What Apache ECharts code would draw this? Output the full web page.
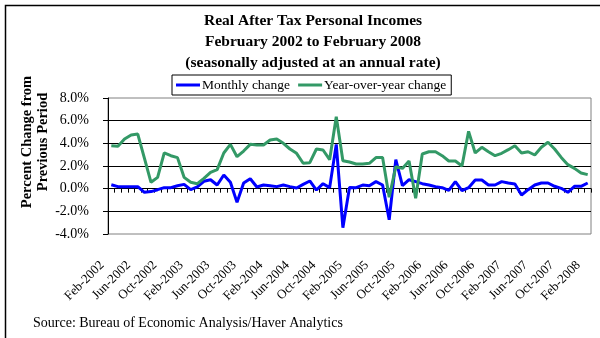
<!DOCTYPE html>
<html>
<head>
<meta charset="utf-8">
<script src="https://cdn.jsdelivr.net/npm/echarts@6/dist/echarts.min.js"></script>
<style>
  html, body { margin: 0; padding: 0; background: #fff; }
  #chart { width: 600px; height: 338px; }
</style>
</head>
<body>
<div id="chart"></div>
<script>
// Monthly categories, February 2002 through February 2008
const monthNames = ['Jan','Feb','Mar','Apr','May','Jun','Jul','Aug','Sep','Oct','Nov','Dec'];
const categories = [];
for (let k = 0; k < 73; k++) {
  const m = (1 + k) % 12;
  const y = 2002 + Math.floor((1 + k) / 12);
  categories.push(monthNames[m] + '-' + y);
}

// Percent change from the previous month (annual rate)
const monthlyChange = [
  0.35, 0.18, 0.18, 0.18, 0.18, -0.32, -0.26, -0.09, 0.09, 0.09,
  0.26, 0.38, -0.09, 0.15, 0.65, 0.79, 0.32, 1.21, 0.56, -1.21,
  0.50, 0.88, 0.15, 0.32, 0.26, 0.18, 0.32, 0.18, 0.06, 0.38,
  0.68, -0.12, 0.44, 0.09, 3.91, -3.44, 0.10, 0.09, 0.32, 0.26,
  0.62, 0.32, -2.74, 2.56, 0.26, 0.79, 0.62, 0.44, 0.32, 0.18,
  0.09, -0.15, 0.62, -0.18, 0.09, 0.76, 0.76, 0.32, 0.32, 0.62,
  0.50, 0.41, -0.56, -0.09, 0.32, 0.50, 0.50, 0.21, 0.03, -0.32,
  0.21, 0.21, 0.50
];

// Percent change from the same month a year earlier
const yearOverYearChange = [
  3.79, 3.74, 4.38, 4.74, 4.82, 2.69, 0.56, 1.00, 3.15, 2.91,
  2.74, 1.00, 0.56, 0.44, 0.91, 1.44, 1.68, 3.15, 3.91, 2.82,
  3.32, 3.91, 3.85, 3.85, 4.29, 4.38, 4.00, 3.50, 3.12, 2.24,
  2.29, 3.50, 3.41, 2.56, 6.35, 2.47, 2.35, 2.18, 2.18, 2.24,
  2.74, 2.74, -0.76, 1.94, 1.79, 2.44, -0.85, 3.06, 3.26, 3.26,
  2.91, 2.44, 2.44, 2.00, 5.06, 3.15, 3.65, 3.26, 2.91, 3.12,
  3.44, 3.79, 3.15, 3.26, 2.97, 3.65, 4.09, 3.50, 2.76, 2.12,
  1.79, 1.38, 1.24
];

const titleLines = [
  'Real After Tax Personal Incomes',
  'February 2002 to February 2008',
  '(seasonally adjusted at an annual rate)'
];
const yAxisTitle = 'Percent Change from\nPrevious Period';
const sourceNote = 'Source: Bureau of Economic Analysis/Haver Analytics';

const serif = '"Liberation Serif", "DejaVu Serif", serif';

const chart = echarts.init(document.getElementById('chart'), null, { renderer: 'canvas' });

chart.setOption({
  backgroundColor: '#fff',
  animation: false,
  title: {
    text: titleLines.join('\n'),
    left: 308,
    top: 5,
    textAlign: 'center',
    textStyle: { fontFamily: serif, fontWeight: 'bold', fontSize: 15.5, lineHeight: 21, color: '#000' }
  },
  legend: {
    left: 172,
    top: 75,
    padding: [3, 5, 3, 4],
    itemGap: 8,
    itemWidth: 24,
    itemHeight: 3,
    icon: 'rect',
    borderColor: '#000',
    borderWidth: 1,
    textStyle: { fontFamily: serif, fontSize: 13.5, color: '#000', padding: [0, 0, 0, -3] },
    data: ['Monthly change', 'Year-over-year change']
  },
  grid: {
    left: 108, right: 9, top: 98, bottom: 104,
    show: true, borderColor: '#808080', borderWidth: 1
  },
  xAxis: [
    {
      // zero line with tick marks between months
      type: 'category',
      data: categories,
      boundaryGap: true,
      axisLine: { onZero: true, lineStyle: { color: '#000', width: 1 } },
      axisTick: { show: true, interval: 0, length: 4, lineStyle: { color: '#000' } },
      axisLabel: { show: false },
      splitLine: { show: false }
    },
    {
      // date labels along the bottom
      type: 'category',
      data: categories,
      position: 'bottom',
      boundaryGap: true,
      axisLine: { show: false, onZero: false },
      axisTick: { show: false },
      axisLabel: {
        interval: 3, rotate: 45, margin: 20,
        padding: [0, 13, 0, 0],
        fontFamily: serif, fontSize: 13, color: '#000'
      }
    }
  ],
  yAxis: {
    type: 'value',
    min: -4, max: 8, interval: 2,
    axisLine: { show: true, lineStyle: { color: '#000', width: 1 } },
    axisTick: { show: true, length: 5, lineStyle: { color: '#000' } },
    axisLabel: {
      margin: 19,
      fontFamily: serif, fontSize: 14, color: '#000',
      formatter: v => v.toFixed(1) + '%'
    },
    splitLine: { show: true, showMinLine: false, showMaxLine: false, lineStyle: { color: '#000', width: 1 } }
  },
  series: [
    {
      name: 'Monthly change',
      type: 'line',
      xAxisIndex: 0,
      data: monthlyChange,
      symbol: 'none',
      lineStyle: { color: '#0000FF', width: 3 },
      itemStyle: { color: '#0000FF' },
      z: 3
    },
    {
      name: 'Year-over-year change',
      type: 'line',
      xAxisIndex: 0,
      data: yearOverYearChange,
      symbol: 'none',
      lineStyle: { color: '#339966', width: 3 },
      itemStyle: { color: '#339966' },
      z: 4
    }
  ],
  graphic: [
    {
      type: 'rect',
      shape: { x: 5.5, y: 5.5, width: 600, height: 340 },
      style: { fill: null, stroke: '#000', lineWidth: 1.5 },
      silent: true
    },
    {
      type: 'text',
      x: 35, y: 142,
      rotation: Math.PI / 2,
      style: {
        text: yAxisTitle,
        font: 'bold 14.5px ' + serif,
        fill: '#000',
        textAlign: 'center',
        textVerticalAlign: 'middle',
        lineHeight: 16
      }
    },
    {
      type: 'text',
      x: 33, y: 323,
      style: {
        text: sourceNote,
        font: '14px ' + serif,
        fill: '#000',
        textAlign: 'left',
        textVerticalAlign: 'middle'
      }
    }
  ]
});
</script>
</body>
</html>
